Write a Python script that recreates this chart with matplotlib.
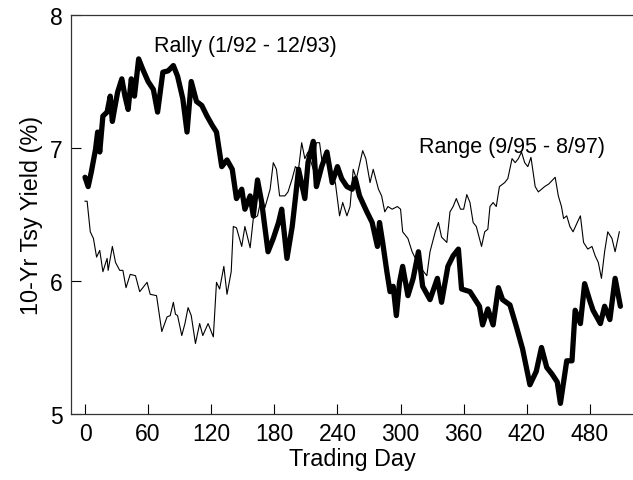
import numpy as np
import matplotlib
matplotlib.use("Agg")
import matplotlib.pyplot as plt

plt.rcParams["font.family"] = ["Liberation Sans", "DejaVu Sans"]

# Rally period (1/92 - 12/93): trading day, 10-yr yield
rally_day = [0, 3, 6, 10, 12, 14, 17, 21, 24, 26, 28, 31, 35, 38, 41, 44, 47, 51, 55, 60,
             65, 69, 74, 79, 84, 88, 93, 97, 101, 106, 111, 116, 121, 125, 130, 135, 140, 144,
             149, 152, 157, 160, 164, 168, 174, 179, 184, 187, 192, 197, 200, 203, 209, 212,
             217, 220, 225, 230, 235, 240, 244, 249, 254, 257, 261, 268, 273, 278, 280, 283,
             287, 290, 293, 296, 299, 302, 307, 312, 317, 321, 328, 335, 339, 345, 350, 355,
             358, 366, 375, 378, 383, 388, 393, 397, 404, 410, 416, 423, 429, 434, 439, 444,
             449, 452, 458, 463, 466, 471, 475, 480, 483, 490, 494, 499, 504, 509]
rally_yld = [6.78, 6.71, 6.82, 6.99, 7.12, 6.97, 7.24, 7.27, 7.39, 7.20, 7.29, 7.42, 7.52, 7.39,
             7.29, 7.52, 7.39, 7.67, 7.59, 7.50, 7.44, 7.27, 7.57, 7.58, 7.62, 7.54, 7.37, 7.12,
             7.50, 7.35, 7.32, 7.24, 7.17, 7.12, 6.86, 6.91, 6.84, 6.62, 6.69, 6.54, 6.64, 6.49,
             6.76, 6.59, 6.22, 6.32, 6.44, 6.54, 6.17, 6.41, 6.62, 6.84, 6.62, 6.89, 7.05, 6.71,
             6.86, 6.97, 6.74, 6.86, 6.77, 6.71, 6.69, 6.77, 6.64, 6.52, 6.44, 6.26, 6.44, 6.29,
             6.07, 5.92, 5.96, 5.74, 5.99, 6.11, 5.89, 6.02, 6.22, 5.96, 5.86, 6.02, 5.84, 6.11,
             6.19, 6.24, 5.94, 5.92, 5.81, 5.67, 5.79, 5.67, 5.95, 5.86, 5.82, 5.66, 5.49, 5.22,
             5.32, 5.50, 5.35, 5.30, 5.24, 5.08, 5.40, 5.40, 5.78, 5.68, 5.98, 5.85, 5.78, 5.68,
             5.81, 5.71, 6.02, 5.81]

# Range period (9/95 - 8/97)
range_day = [0, 2, 5, 8, 11, 14, 17, 21, 22, 26, 29, 33, 36, 39, 43, 48, 52, 59, 62, 68, 73,
             78, 81, 84, 86, 88, 92, 95, 98, 101, 105, 109, 112, 117, 122, 125, 128, 132, 135,
             139, 141, 144, 149, 152, 157, 160, 164, 168, 171, 176, 179, 182, 185, 190, 193,
             197, 200, 203, 206, 209, 212, 217, 220, 223, 226, 230, 235, 238, 242, 245, 249,
             252, 255, 258, 264, 267, 271, 274, 279, 282, 285, 288, 292, 297, 300, 302, 307,
             311, 316, 320, 325, 328, 333, 336, 339, 344, 347, 350, 353, 357, 360, 363, 366,
             369, 372, 375, 377, 380, 383, 385, 388, 391, 394, 399, 402, 406, 409, 412, 415,
             418, 421, 424, 428, 431, 434, 437, 441, 447, 450, 453, 455, 458, 461, 464, 468,
             471, 474, 478, 482, 485, 488, 491, 494, 497, 501, 504, 508]
range_yld = [6.60, 6.60, 6.37, 6.32, 6.18, 6.23, 6.07, 6.17, 6.08, 6.26, 6.14, 6.08, 6.08, 5.95,
             6.05, 6.04, 5.92, 5.99, 5.90, 5.89, 5.62, 5.73, 5.74, 5.84, 5.75, 5.74, 5.59, 5.68,
             5.80, 5.74, 5.53, 5.68, 5.59, 5.68, 5.58, 5.99, 5.94, 6.11, 5.90, 6.07, 6.41, 6.40,
             6.26, 6.41, 6.25, 6.47, 6.49, 6.64, 6.55, 6.69, 6.89, 6.84, 6.64, 6.64, 6.67, 6.77,
             6.86, 6.84, 7.04, 6.92, 6.97, 6.84, 7.04, 7.04, 6.86, 6.92, 6.79, 6.74, 6.49, 6.59,
             6.49, 6.56, 6.84, 6.77, 6.98, 6.92, 6.74, 6.84, 6.69, 6.64, 6.52, 6.56, 6.54, 6.56,
             6.54, 6.37, 6.32, 6.22, 6.14, 6.09, 6.04, 6.22, 6.37, 6.44, 6.33, 6.29, 6.52, 6.56,
             6.62, 6.54, 6.54, 6.65, 6.59, 6.44, 6.41, 6.32, 6.26, 6.37, 6.39, 6.56, 6.59, 6.56,
             6.71, 6.74, 6.77, 6.92, 6.89, 6.92, 6.97, 6.89, 6.86, 6.93, 6.71, 6.67, 6.69, 6.71,
             6.73, 6.78, 6.64, 6.56, 6.47, 6.49, 6.41, 6.37, 6.44, 6.49, 6.29, 6.24, 6.26, 6.19,
             6.14, 6.02, 6.22, 6.37, 6.32, 6.22, 6.37]

x_ticks = [0, 60, 120, 180, 240, 300, 360, 420, 480]
y_ticks = [5, 6, 7, 8]

fig = plt.figure(figsize=(6.33, 4.81), dpi=100)
ax = fig.add_axes([0.1122, 0.1372, 0.8878, 0.8295])

ax.plot(rally_day, rally_yld, color="black", linewidth=3.8,
        solid_joinstyle="round", solid_capstyle="round")
ax.plot(range_day, range_yld, color="black", linewidth=0.8)

ax.text(66, 7.77, "Rally (1/92 - 12/93)", fontsize=15.5, va="center", ha="left")
ax.text(318, 7.01, "Range (9/95 - 8/97)", fontsize=15.5, va="center", ha="left")

ax.set_xlim(-13.3, 521)
ax.set_ylim(5, 8)
ax.set_xticks(x_ticks)
ax.set_yticks(y_ticks)
ax.tick_params(direction="in", length=7, width=0.8, labelsize=16.5, pad=6)
ax.spines["right"].set_visible(False)
for s in ["left", "top", "bottom"]:
    ax.spines[s].set_linewidth(0.9)
    ax.spines[s].set_color("#333333")

ax.set_xlabel("Trading Day", fontsize=16.8, labelpad=1)
ax.set_ylabel("10-Yr Tsy Yield (%)", fontsize=16.8, labelpad=5)

fig.savefig("out.png", dpi=100)
